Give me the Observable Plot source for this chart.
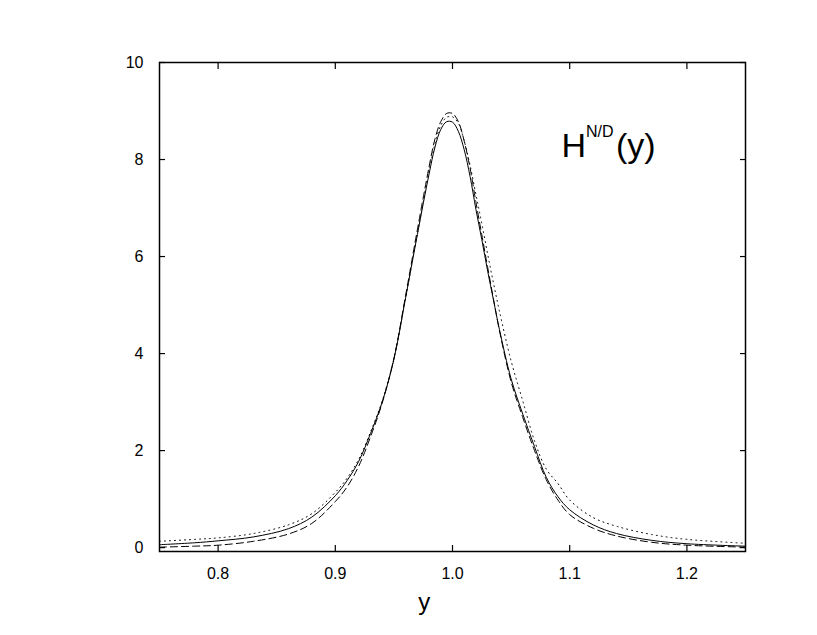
<!DOCTYPE html>
<html>
<head>
<meta charset="utf-8">
<script src="https://cdn.jsdelivr.net/npm/d3@7"></script>
<script src="https://cdn.jsdelivr.net/npm/@observablehq/plot@0.6"></script>
<style>
  html, body { margin: 0; padding: 0; background: #fff; }
  #chart { width: 817px; height: 635px; }
</style>
</head>
<body>
<div id="chart"></div>
<script>
// Abscissa grid (y) shared by the three curves
const yGrid = [0.75, 0.78, 0.80, 0.83, 0.86, 0.88, 0.90, 0.91, 0.92, 0.93, 0.94, 0.95, 0.96, 0.97, 0.98, 0.985, 0.99, 0.995, 1.00, 1.005, 1.01, 1.015, 1.02, 1.025, 1.03, 1.035, 1.04, 1.05, 1.06, 1.07, 1.08, 1.09, 1.10, 1.12, 1.14, 1.17, 1.20, 1.25];

// H^{N/D}(y) — solid curve
const solidH = [0.06, 0.10, 0.14, 0.22, 0.39, 0.63, 1.07, 1.38, 1.78, 2.35, 3.00, 3.88, 5.15, 6.45, 7.70, 8.25, 8.62, 8.78, 8.77, 8.58, 8.20, 7.65, 6.97, 6.35, 5.70, 5.10, 4.50, 3.48, 2.75, 2.08, 1.45, 1.05, 0.78, 0.47, 0.29, 0.15, 0.08, 0.03];

// dashed curve
const dashedH = [0.01, 0.03, 0.05, 0.13, 0.28, 0.50, 0.95, 1.25, 1.68, 2.28, 2.98, 3.90, 5.20, 6.55, 7.85, 8.42, 8.78, 8.95, 8.95, 8.78, 8.38, 7.82, 7.12, 6.45, 5.78, 5.12, 4.48, 3.42, 2.68, 2.00, 1.40, 0.98, 0.68, 0.40, 0.24, 0.11, 0.05, 0.01];

// dotted curve
const dottedH = [0.13, 0.17, 0.20, 0.29, 0.47, 0.70, 1.14, 1.43, 1.82, 2.38, 3.02, 3.90, 5.15, 6.47, 7.75, 8.32, 8.70, 8.87, 8.88, 8.75, 8.38, 7.88, 7.28, 6.68, 6.05, 5.45, 4.88, 3.85, 3.02, 2.20, 1.62, 1.32, 0.98, 0.62, 0.44, 0.27, 0.17, 0.09];

// Tick values
const xTicks = [0.8, 0.9, 1.0, 1.1, 1.2];
const yTicks = [0, 2, 4, 6, 8, 10];

const mk = arr => yGrid.map((x, i) => ({x, h: arr[i]}));
const solid = mk(solidH), dashed = mk(dashedH), dotted = mk(dottedH);

const font = "'Liberation Sans', Arial, Helvetica, sans-serif";
const fmtX = d3.format(".1f");

const plot = Plot.plot({
  width: 817,
  height: 635,
  marginLeft: 159,
  marginRight: 72,
  marginTop: 62,
  marginBottom: 84,
  style: {fontFamily: font, fontSize: "16px", color: "black", background: "white", overflow: "visible"},
  x: {domain: [0.75, 1.25], label: null},
  y: {domain: [-0.08, 10], label: null},
  marks: [
    // tick labels
    Plot.axisX(xTicks, {anchor: "bottom", tickSize: 0, tickPadding: 16, tickFormat: fmtX, fontSize: 16, label: null}),
    Plot.axisY(yTicks, {anchor: "left", tickSize: 0, tickPadding: 16, fontSize: 16, label: null}),
    // inward ticks on all four sides
    Plot.axisX(xTicks, {anchor: "bottom", tickSize: -6, text: null, label: null, strokeWidth: 1.2}),
    Plot.axisX(xTicks, {anchor: "top", tickSize: -6, text: null, label: null, strokeWidth: 1.2}),
    Plot.axisY(yTicks, {anchor: "left", tickSize: -6, text: null, label: null, strokeWidth: 1.2}),
    Plot.axisY(yTicks, {anchor: "right", tickSize: -6, text: null, label: null, strokeWidth: 1.2}),
    // curves
    Plot.line(dotted, {x: "x", y: "h", stroke: "black", strokeWidth: 1, strokeDasharray: "1,4", curve: "catmull-rom"}),
    Plot.line(dashed, {x: "x", y: "h", stroke: "black", strokeWidth: 1, strokeDasharray: "7,4", curve: "catmull-rom"}),
    Plot.line(solid, {x: "x", y: "h", stroke: "black", strokeWidth: 1, curve: "catmull-rom"}),
    Plot.frame({stroke: "black", strokeWidth: 1.5}),
    // in-plot label H^{N/D}(y)
    Plot.text(["H"], {x: () => 1.093, y: () => 8.06, text: d => d, textAnchor: "start", lineAnchor: "bottom", fontSize: 34, fill: "black"}),
    Plot.text(["N/D"], {x: () => 1.093, y: () => 8.06, text: d => d, textAnchor: "start", lineAnchor: "bottom", fontSize: 16, dx: 24.5, dy: -19.5, fill: "black"}),
    Plot.text(["(y)"], {x: () => 1.093, y: () => 8.06, text: d => d, textAnchor: "start", lineAnchor: "bottom", fontSize: 34, dx: 54.5, fill: "black"}),
    // x axis title
    Plot.text(["y"], {x: () => 0.976, frameAnchor: "bottom", text: d => d, textAnchor: "middle", lineAnchor: "top", fontSize: 24, dy: 41, fill: "black"})
  ]
});

document.getElementById("chart").appendChild(plot);
</script>
</body>
</html>
